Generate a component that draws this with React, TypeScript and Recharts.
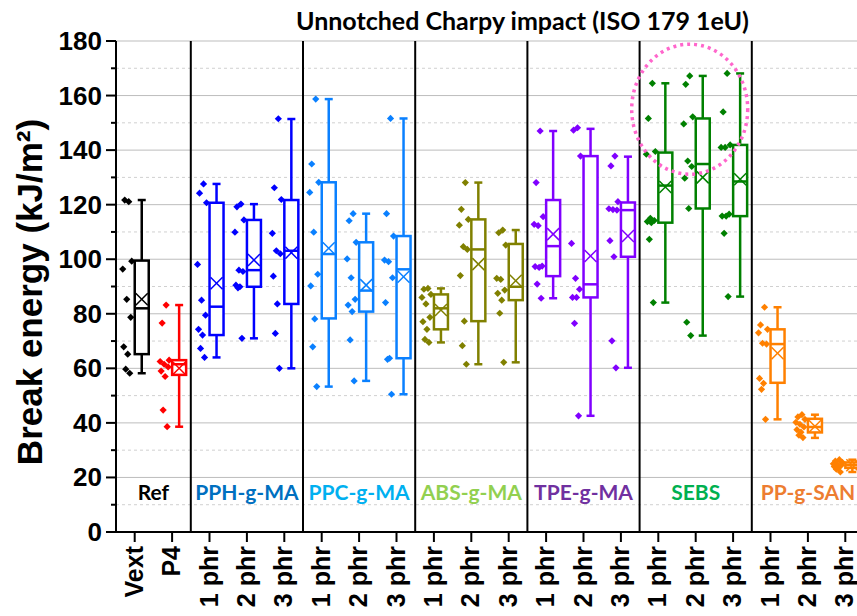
import { ComposedChart, Bar, XAxis, YAxis, CartesianGrid, ReferenceLine, ReferenceArea, ReferenceDot } from "recharts"

// one entry per box, left to right
const keys = [
  "Vext", "P4",
  "PPH-1", "PPH-2", "PPH-3",
  "PPC-1", "PPC-2", "PPC-3",
  "ABS-1", "ABS-2", "ABS-3",
  "TPE-1", "TPE-2", "TPE-3",
  "SEBS-1", "SEBS-2", "SEBS-3",
  "SAN-1", "SAN-2", "SAN-3",
]
const tickLabels = [
  "Vext", "P4",
  "1 phr", "2 phr", "3 phr",
  "1 phr", "2 phr", "3 phr",
  "1 phr", "2 phr", "3 phr",
  "1 phr", "2 phr", "3 phr",
  "1 phr", "2 phr", "3 phr",
  "1 phr", "2 phr", "3 phr",
]
const boxColors = [
  "#000000", "#FF0000",
  "#0000FF", "#0000FF", "#0000FF",
  "#0A80FF", "#0A80FF", "#0A80FF",
  "#808000", "#808000", "#808000",
  "#8000FF", "#8000FF", "#8000FF",
  "#008000", "#008000", "#008000",
  "#FF8000", "#FF8000", "#FF8000",
]

const minVals = [58.2, 38.6, 64.0, 71.0, 60.0, 53.3, 55.4, 50.5, 69.5, 61.5, 62.2, 85.7, 42.6, 60.2, 84.1, 72.0, 86.3, 41.3, 34.5, 22.0]
const q1Vals = [65.2, 57.6, 72.2, 89.9, 83.6, 78.3, 80.8, 63.7, 74.3, 77.3, 85.0, 93.8, 86.0, 100.9, 113.4, 118.6, 115.8, 54.7, 36.5, 23.5]
const medianVals = [82.0, 61.5, 82.6, 96.0, 103.1, 101.9, 88.5, 96.3, 82.0, 103.6, 89.9, 104.8, 90.8, 118.0, 127.0, 134.9, 128.5, 68.9, 38.5, 24.5]
const q3Vals = [99.5, 63.0, 120.7, 114.4, 121.7, 128.2, 106.2, 108.5, 87.1, 114.6, 105.6, 121.7, 137.8, 120.8, 139.1, 151.6, 141.9, 74.3, 41.5, 25.5]
const maxVals = [121.7, 83.2, 127.6, 120.2, 151.4, 158.7, 116.7, 151.6, 89.3, 128.1, 110.7, 147.0, 147.8, 137.6, 164.5, 167.2, 168.1, 82.4, 43.0, 26.5]
const meanVals = [85.3, 60.0, 91.2, 99.7, 102.4, 104.0, 90.5, 93.6, 81.4, 98.2, 92.1, 109.2, 101.2, 108.5, 126.5, 130.0, 129.3, 65.5, 38.8, 24.5]

// individual specimens
const samples = [
  [121.1, 121.7, 99.3, 96.4, 85.3, 78.7, 67.9, 65.2, 59.7, 58.2],
  [83.2, 76.6, 63.0, 62.5, 61.5, 60.5, 59.0, 57.0, 44.7, 38.6],
  [127.6, 124.2, 120.7, 98.1, 85.0, 79.5, 74.3, 72.2, 67.3, 64.0],
  [120.2, 119.2, 114.4, 109.9, 96.0, 95.5, 90.5, 89.9, 89.5, 71.0],
  [151.5, 126.2, 121.9, 109.5, 103.1, 102.0, 93.8, 83.6, 72.8, 60.0],
  [158.7, 134.9, 128.2, 124.5, 109.9, 94.5, 90.2, 78.1, 67.9, 53.3],
  [116.7, 114.1, 106.2, 100.1, 93.2, 85.3, 83.2, 80.8, 70.4, 55.4],
  [151.6, 116.7, 108.5, 99.7, 99.1, 93.2, 84.1, 63.7, 63.3, 50.5],
  [89.3, 89.0, 87.1, 86.0, 83.6, 78.7, 77.1, 74.3, 70.6, 69.5],
  [128.1, 118.3, 114.6, 112.5, 104.6, 103.6, 94.0, 77.3, 68.3, 61.5],
  [110.7, 109.7, 105.2, 93.0, 92.6, 88.7, 87.5, 85.0, 80.2, 62.2],
  [147.0, 128.1, 115.6, 112.8, 112.3, 97.5, 97.3, 97.0, 90.9, 85.7],
  [148.2, 147.3, 137.8, 105.8, 93.0, 89.0, 86.0, 86.0, 76.5, 42.6],
  [137.8, 134.2, 121.1, 118.5, 118.2, 118.0, 106.8, 100.9, 70.1, 60.2],
  [164.5, 151.6, 139.5, 138.5, 115.0, 114.2, 113.8, 113.4, 107.3, 84.1],
  [167.2, 164.1, 152.2, 149.6, 136.0, 134.0, 129.7, 118.6, 76.9, 72.0],
  [168.1, 154.0, 141.9, 141.0, 141.0, 116.5, 115.8, 115.8, 109.5, 86.3],
  [82.4, 75.9, 74.3, 73.0, 69.2, 68.9, 56.3, 54.5, 52.3, 41.3],
  [43.0, 42.2, 41.3, 40.2, 39.5, 38.5, 37.5, 36.6, 35.5, 34.6],
  [26.5, 26.0, 25.5, 25.0, 24.8, 24.5, 24.0, 23.5, 23.0, 22.0],
]

const groupNames = ["Ref", "PPH-g-MA", "PPC-g-MA", "ABS-g-MA", "TPE-g-MA", "SEBS", "PP-g-SAN"]
const groupColors = ["#000000", "#0070C0", "#00B0F0", "#92D050", "#7030A0", "#00B050", "#ED7D31"]
const groupFirst = ["Vext", "PPH-1", "PPC-1", "ABS-1", "TPE-1", "SEBS-1", "SAN-1"]
const groupLast = ["P4", "PPH-3", "PPC-3", "ABS-3", "TPE-3", "SEBS-3", "SAN-3"]

const yTicks = [0, 10, 20, 30, 40, 50, 60, 70, 80, 90, 100, 110, 120, 130, 140, 150, 160, 170, 180]
const majorGrid = [20, 40, 60, 80, 100, 120, 140, 160, 180]
const minorGrid = [10, 30, 50, 70, 90, 110, 130, 150, 170]

const data = keys.map((key, i) => ({
  key,
  label: tickLabels[i],
  color: boxColors[i],
  min: minVals[i],
  q1: q1Vals[i],
  median: medianVals[i],
  q3: q3Vals[i],
  max: maxVals[i],
  mean: meanVals[i],
  points: samples[i],
  range: [minVals[i], maxVals[i]],
}))

const jitter = [-6, -10, -3, -12, -8, -4, -11, -7, -9, -5]

function BoxShape(props: any) {
  const { x, y, width, height, payload } = props
  const { min, max, q1, median, q3, mean, color, points } = payload
  const yOf = (v: number) => y + ((max - v) / (max - min)) * height
  const center = x + width / 2
  const bx = center + 7
  const hw = 7
  const d = 3.6
  return (
    <g>
      {points.map((p: number, i: number) => {
        const px = center + jitter[i % jitter.length]
        const py = yOf(p)
        return (
          <polygon
            key={i}
            points={`${px},${py - d} ${px + d},${py} ${px},${py + d} ${px - d},${py}`}
            fill={color}
          />
        )
      })}
      <line x1={bx} x2={bx} y1={yOf(max)} y2={yOf(q3)} stroke={color} strokeWidth={2.5} />
      <line x1={bx} x2={bx} y1={yOf(q1)} y2={yOf(min)} stroke={color} strokeWidth={2.5} />
      <line x1={bx - 4} x2={bx + 4} y1={yOf(max)} y2={yOf(max)} stroke={color} strokeWidth={2.5} />
      <line x1={bx - 4} x2={bx + 4} y1={yOf(min)} y2={yOf(min)} stroke={color} strokeWidth={2.5} />
      <rect x={bx - hw} y={yOf(q3)} width={hw * 2} height={yOf(q1) - yOf(q3)} fill="#fff" stroke={color} strokeWidth={2.5} />
      <line x1={bx - hw} x2={bx + hw} y1={yOf(median)} y2={yOf(median)} stroke={color} strokeWidth={2.5} />
      <line x1={bx - 6} x2={bx + 6} y1={yOf(mean) - 6} y2={yOf(mean) + 6} stroke={color} strokeWidth={1.5} />
      <line x1={bx - 6} x2={bx + 6} y1={yOf(mean) + 6} y2={yOf(mean) - 6} stroke={color} strokeWidth={1.5} />
    </g>
  )
}

function XTick(props: any) {
  const { x, y, payload } = props
  const label = tickLabels[keys.indexOf(payload.value)]
  return (
    <text
      transform={`translate(${x - 1},${y}) rotate(-90)`}
      textAnchor="end"
      dominantBaseline="central"
      fontFamily="Liberation Sans, Arial, sans-serif"
      fontWeight={700}
      fontSize={25}
      fill="#000"
    >
      {label}
    </text>
  )
}

function YTick(props: any) {
  const { x, y, payload } = props
  const major = payload.value % 20 === 0
  return (
    <g>
      <line x1={x - (major ? 10 : 5)} x2={x} y1={y} y2={y} stroke="#000" strokeWidth={2} />
      {major && (
        <text
          x={x - 14}
          y={y}
          textAnchor="end"
          dominantBaseline="central"
          fontFamily="Liberation Sans, Arial, sans-serif"
          fontWeight={700}
          fontSize={26}
          fill="#000"
        >
          {payload.value}
        </text>
      )}
    </g>
  )
}

export default function App() {
  return (
    <div style={{ position: "fixed", left: 0, top: 0, width: 857, height: 616, overflow: "hidden", background: "#fff" }}>
      <div
        style={{
          position: "absolute",
          left: 296,
          top: 5,
          whiteSpace: "nowrap",
          fontFamily: "Lato, sans-serif",
          fontWeight: 700,
          fontSize: 25,
          lineHeight: "30px",
          color: "#000",
        }}
      >
        Unnotched Charpy impact (ISO 179 1eU)
      </div>
      <div
        style={{
          position: "absolute",
          left: 30,
          top: 292,
          transform: "translate(-50%, -50%) rotate(-90deg)",
          whiteSpace: "nowrap",
          fontFamily: "Liberation Sans, Arial, sans-serif",
          fontWeight: 700,
          fontSize: 35,
          lineHeight: "40px",
          color: "#000",
        }}
      >
        Break energy (kJ/m²)
      </div>
      <div style={{ position: "absolute", left: 0, top: 0 }}>
        <ComposedChart width={870} height={616} data={data} margin={{ top: 41, right: 6, bottom: 14, left: 56 }}>
          <CartesianGrid vertical={false} horizontalValues={minorGrid} stroke="#D0D0D0" strokeDasharray="3 3" />
          <CartesianGrid vertical={false} horizontalValues={majorGrid} stroke="#BDBDBD" />
          <XAxis
            dataKey="key"
            type="category"
            interval={0}
            height={70}
            tickSize={10}
            tickMargin={4}
            tick={<XTick />}
            tickLine={{ stroke: "#000", strokeWidth: 2 }}
            axisLine={{ stroke: "#000", strokeWidth: 2 }}
          />
          <YAxis
            type="number"
            domain={[0, 180]}
            ticks={yTicks}
            interval={0}
            width={60}
            tickSize={0}
            tickMargin={0}
            tickLine={false}
            tick={<YTick />}
            axisLine={{ stroke: "#000", strokeWidth: 2 }}
          />
          {groupNames.map((name, i) => (
            <ReferenceArea
              key={name}
              x1={groupFirst[i]}
              x2={groupLast[i]}
              fill="none"
              fillOpacity={0}
              stroke="none"
              label={{
                value: name,
                position: "insideBottom",
                offset: 32,
                fill: groupColors[i],
                fontSize: 21,
                fontWeight: 700,
                fontFamily: "Lato, sans-serif",
              }}
            />
          ))}
          {groupFirst.slice(1).map((k) => (
            <ReferenceLine key={k} x={k} position="start" stroke="#000" strokeWidth={2} />
          ))}
          <Bar dataKey="range" isAnimationActive={false} shape={(p: any) => <BoxShape {...p} />} />
          <ReferenceDot
            x="SEBS-2"
            y={155}
            r={1}
            shape={(p: any) => (
              <ellipse
                cx={p.cx - 6}
                cy={p.cy}
                rx={58}
                ry={65}
                fill="none"
                stroke="#FF66CC"
                strokeWidth={3.5}
                strokeDasharray="3 4"
              />
            )}
          />
        </ComposedChart>
      </div>
    </div>
  )
}
